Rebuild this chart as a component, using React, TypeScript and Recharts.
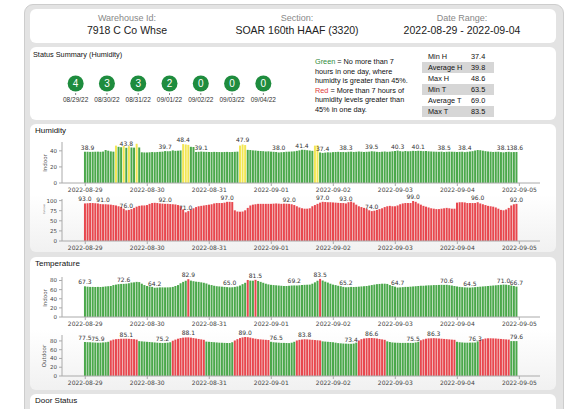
import { BarChart, Bar, XAxis, YAxis, Cell, LabelList, ScatterChart, Scatter } from 'recharts';

// hourly readings, 2022-08-29 00:00 .. 2022-09-04 23:00 (one row per day)
const indoorHumidity = [
  38.9, 38.9, 38.7, 38.8, 38.9, 39.0, 38.8, 39.1, 41.0, 40.2, 39.3, 39.0, 46.5, 45.0, 44.5, 46.0, 43.8, 45.8, 44.2, 44.0, 48.8, 44.2, 38.2, 38.0,
  38.0, 38.2, 38.5, 38.3, 38.6, 38.8, 39.0, 39.7, 39.5, 39.6, 40.6, 40.0, 40.2, 40.5, 48.4, 47.9, 47.4, 45.0, 44.8, 38.6, 38.8, 39.1, 38.8, 38.7,
  38.6, 38.5, 38.7, 38.6, 38.5, 38.4, 38.6, 38.7, 38.5, 38.6, 38.8, 39.0, 46.6, 47.9, 47.2, 41.2, 41.0, 40.6, 40.4, 40.0, 39.8, 39.6, 39.2, 39.4,
  39.0, 38.8, 38.6, 38.0, 38.3, 38.5, 38.8, 39.0, 39.2, 39.4, 40.0, 40.6, 41.4, 41.2, 40.8, 40.4, 40.0, 46.5, 47.0, 38.0, 37.4, 37.8, 38.2, 38.0,
  38.4, 38.6, 38.8, 38.5, 38.6, 38.3, 38.8, 39.0, 38.6, 38.8, 39.2, 38.9, 38.6, 38.8, 39.0, 39.5, 39.2, 38.8, 38.6, 38.9, 39.2, 38.8, 39.0, 39.4,
  39.8, 40.3, 39.6, 39.2, 39.8, 39.4, 39.6, 40.0, 39.8, 40.1, 39.9, 39.6, 39.8, 39.4, 39.2, 39.0, 38.9, 38.8, 39.0, 38.5, 38.8, 39.0, 38.9, 38.8,
  38.6, 38.8, 38.9, 38.4, 38.8, 39.2, 39.6, 40.4, 41.0, 40.8, 40.2, 39.6, 39.2, 38.9, 38.6, 38.8, 38.9, 38.4, 38.1, 38.6, 38.8, 38.4, 38.5, 38.6,
];
const outdoorHumidity = [
  93.0, 93.5, 94, 94, 93.5, 93, 91.5, 91.0, 91, 90.5, 90, 89, 88, 86, 84, 80, 76.0, 77, 79, 82, 85, 87, 88, 88,
  89, 92, 94, 94.5, 94, 93, 92.5, 92.0, 92, 91.5, 91, 90.5, 89, 86, 78, 71.0, 74, 78, 81, 84, 86, 87, 88, 89,
  90, 91, 93, 94, 94, 94, 95, 97.0, 97, 96.5, 76, 73, 72.5, 73, 76, 82, 88, 90, 91, 92, 92, 92, 92, 92,
  92, 92.5, 93, 92.5, 92, 92.5, 92, 92.0, 91, 89, 86, 83, 81, 80, 80, 81, 86, 89, 92, 95, 97.0, 96.5, 96, 96,
  95.5, 95, 94.5, 94, 94, 93.0, 96, 97.5, 95, 90, 86, 84, 82, 80, 76, 74.0, 75, 77, 79, 81, 84, 86, 87, 86,
  86, 88, 91, 93, 94, 94, 94, 99.0, 97, 93, 90, 87, 85, 83, 81, 80, 79, 79, 80, 81, 82, 81, 80, 80,
  95, 96, 96, 95.5, 94, 94, 94, 94, 96.0, 93, 91, 89, 87, 86, 85, 83, 80, 77, 76, 78, 82, 88, 91, 92.0,
];
const indoorTemp = [
  67.3, 66.5, 66, 66, 65.8, 66, 65.8, 66.2, 67, 67.5, 68, 70, 71, 72, 72.5, 72.6, 73, 74, 75.5, 76, 77, 76.5, 73, 70,
  68, 67, 66, 64.2, 64.5, 65, 65, 64.8, 65, 65.2, 66, 68, 70, 74, 77, 79.5, 82.9, 79.8, 78.5, 77.5, 77, 76, 75, 73.5,
  71, 70, 68.5, 67.5, 67, 66.5, 66, 65.5, 65.0, 65.2, 66, 67, 69, 72, 75, 81.2, 79.8, 79.6, 81.5, 79, 77, 75, 73, 71.5,
  70.5, 70, 69.5, 69, 68.5, 68, 68, 68.5, 69, 69.2, 69, 69.5, 70, 70.5, 70.8, 71, 73, 76, 79.5, 83.5, 80, 77.5, 75.5, 73,
  71, 70, 68.5, 67.5, 66, 65.2, 65.5, 66, 65.8, 66, 66.5, 67, 67.5, 68, 69, 70, 71, 72, 72.5, 73, 73, 72.5, 70, 68,
  66.5, 64.7, 65, 65.5, 66, 66, 66.5, 67, 67.5, 68, 68.5, 68.5, 69, 69.5, 69.5, 70, 70, 70.3, 70.5, 70.4, 70.6, 69.8, 69, 68,
  67, 66, 65.5, 65, 64.8, 64.5, 65, 65.5, 66, 66.5, 67, 67.5, 68, 68.5, 69, 69.5, 70, 70.5, 71.0, 70.8, 70, 69, 68, 66.7,
];
const outdoorTemp = [
  77.5, 77.2, 77, 76.5, 76.2, 75.9, 76, 76.5, 77, 78, 81, 83, 84, 84.5, 85, 85, 85.1, 84.8, 84.5, 84, 83, 79.5, 79, 78.5,
  78, 77.5, 77, 76.5, 76, 75.5, 75.2, 75.5, 76, 77, 80.5, 83, 85, 86.5, 87.5, 88, 88.1, 87.5, 86.5, 85.5, 84.5, 83.5, 82.5, 78.5,
  78, 77.5, 77, 76.5, 76, 75.8, 75.5, 75.3, 75.2, 77, 81, 84, 86.5, 88, 89.0, 88.5, 87.5, 86, 85, 84, 83.5, 83, 82.5, 82,
  78, 77, 76.5, 76, 75.5, 75.5, 75, 75, 76, 78, 81, 82.5, 83.5, 83.8, 83.5, 83, 82.5, 82, 81.5, 81, 79, 78.5, 78, 77.5,
  77, 76, 75, 74.5, 74, 73.8, 73.5, 73.4, 74, 76, 81, 84, 85.5, 86.2, 86.5, 86.6, 86.2, 85.5, 84.5, 83.5, 82.5, 79, 77.5, 76.5,
  76, 75.8, 75.5, 75.5, 75.5, 75.6, 75.5, 75.5, 76.5, 78, 81.5, 83.5, 85, 85.8, 86, 86.3, 86, 85.5, 85, 84.5, 84, 83.5, 83, 82.5,
  78, 77, 76.5, 76, 76, 76.2, 76.3, 76.3, 79, 82, 84, 85.5, 86, 86, 85.8, 85.5, 85, 84.5, 84, 83.5, 83, 79.6, 79.6, 79.6,
];

// hours whose value is printed above the bar
const indoorHumidityLabels = [1, 16, 31, 38, 45, 61, 75, 84, 92, 101, 111, 121, 129, 139, 147, 162, 167];
const outdoorHumidityLabels = [0, 7, 16, 31, 39, 55, 79, 92, 101, 111, 127, 152, 167];
const indoorTempLabels = [0, 15, 27, 40, 56, 66, 81, 91, 101, 121, 140, 149, 162, 167];
const outdoorTempLabels = [0, 5, 16, 30, 40, 62, 74, 85, 103, 111, 127, 135, 151, 167];

const dayTicks = ['2022-08-29', '2022-08-30', '2022-08-31', '2022-09-01', '2022-09-02', '2022-09-03', '2022-09-04', '2022-09-05'];
const tickHours = [0, 24, 48, 72, 96, 120, 144, 168];

const summaryDates = ['08/29/22', '08/30/22', '08/31/22', '09/01/22', '09/02/22', '09/03/22', '09/04/22'];
const summaryCounts = [4, 3, 3, 2, 0, 0, 0];

const statNames = ['Min H', 'Average H', 'Max H', 'Min T', 'Average T', 'Max T'];
const statValues = ['37.4', '39.8', '48.6', '63.5', '69.0', '83.5'];

const GREEN = '#4ba84b';
const RED = '#e8474e';
const YELLOW = '#f3e654';
const TXT = '#444';
const CHART_FONT = 'DejaVu Sans';

type HourlyProps = {
  values: number[];
  labels: number[];
  colorOf: (v: number) => string;
  yMax: number;
  yTicks: number[];
  plotTop: number;
  plotBottom: number;
};

function HourlyChart({ values, labels, colorOf, yMax, yTicks, plotTop, plotBottom }: HourlyProps) {
  const data = values.map((v, i) => ({ h: i, v, lab: labels.includes(i) ? v.toFixed(1) : null }));
  const mTop = 8;
  const height = mTop + (plotBottom - plotTop) + 14;
  return (
    <BarChart
      width={520}
      height={height}
      data={data}
      margin={{ top: mTop, right: 10, left: 0, bottom: 0 }}
      style={{ position: 'absolute', left: 30, top: plotTop - mTop }}
    >
      <XAxis
        type="number"
        dataKey="h"
        domain={[-9, 176]}
        ticks={tickHours}
        tickFormatter={(h: number) => dayTicks[Math.round(h / 24)]}
        height={14}
        tickSize={3}
        stroke="#aaa"
        tick={{ fontSize: 6, fill: TXT, fontFamily: CHART_FONT }}
        interval={0}
      />
      <YAxis
        domain={[0, yMax]}
        ticks={yTicks}
        width={32}
        tickSize={3}
        stroke="#aaa"
        tick={{ fontSize: 5.5, fill: TXT, fontFamily: CHART_FONT }}
        interval={0}
      />
      <Bar dataKey="v" barSize={2} isAnimationActive={false}>
        {data.map((d) => (
          <Cell key={d.h} fill={colorOf(d.v)} />
        ))}
        <LabelList
          dataKey="lab"
          content={(p: any) =>
            p.value == null ? null : (
              <text
                x={p.x + p.width / 2}
                y={p.y - 2}
                textAnchor="middle"
                fontSize={6}
                fill="#333"
                fontFamily={CHART_FONT}
              >
                {p.value}
              </text>
            )
          }
        />
      </Bar>
    </BarChart>
  );
}

function SideLabel({ text, x, y, size = 5.5 }: { text: string; x: number; y: number; size?: number }) {
  return (
    <div
      style={{
        position: 'absolute',
        left: x,
        top: y,
        transform: 'translate(-50%, -50%) rotate(-90deg)',
        fontSize: size,
        fontFamily: CHART_FONT,
        color: '#555',
        whiteSpace: 'nowrap',
      }}
    >
      {text}
    </div>
  );
}

const panel = (top: number, height: number, grad = false): any => ({
  position: 'absolute',
  left: 30,
  top,
  width: 526,
  height,
  borderRadius: 6,
  background: grad ? 'linear-gradient(#ffffff 55%, #f1f1f1)' : '#fff',
});

const title: any = {
  position: 'absolute',
  left: 5,
  top: 2,
  fontSize: 8,
  color: '#111',
  fontFamily: 'Liberation Sans',
};

function CircleShape(props: any) {
  const { cx, cy, payload } = props;
  return (
    <g>
      <circle cx={cx} cy={cy} r={8} fill="#1e8c3e" />
      <text x={cx} y={cy + 3.5} textAnchor="middle" fontSize={10} fill="#fff" fontFamily="Liberation Sans">
        {payload.count}
      </text>
    </g>
  );
}

export default function App() {
  const summary = summaryDates.map((d, i) => ({ date: d, count: summaryCounts[i], y: 1 }));
  const header = [
    { x: 127, k: 'Warehouse Id:', v: '7918 C Co Whse' },
    { x: 297, k: 'Section:', v: 'SOAR 160th HAAF (3320)' },
    { x: 462, k: 'Date Range:', v: '2022-08-29 - 2022-09-04' },
  ];
  return (
    <div
      style={{
        position: 'absolute',
        left: 0,
        top: 0,
        width: 569,
        height: 409,
        overflow: 'hidden',
        background: '#fff',
        fontFamily: 'Liberation Sans',
      }}
    >
      <div
        style={{
          position: 'absolute',
          left: 24,
          top: 4,
          width: 538,
          height: 430,
          background: '#e3e3e3',
          border: '1px solid #cdcdcd',
          borderRadius: 9,
        }}
      />
      <div style={panel(9, 34)}>
        {header.map((h) => (
          <div key={h.k}>
            <div
              style={{ position: 'absolute', left: h.x - 30, top: 4, transform: 'translateX(-50%)', fontSize: 9, color: '#888', whiteSpace: 'nowrap' }}
            >
              {h.k}
            </div>
            <div
              style={{ position: 'absolute', left: h.x - 30, top: 15, transform: 'translateX(-50%)', fontSize: 10.5, color: '#222', whiteSpace: 'nowrap' }}
            >
              {h.v}
            </div>
          </div>
        ))}
      </div>
      <div style={panel(47, 73)}>
        <div style={{ ...title, left: 3, top: 3, fontSize: 7.3 }}>Status Summary (Humidity)</div>
        <div style={{ position: 'absolute', left: 285, top: 10, fontSize: 7.3, lineHeight: '9.6px', color: '#111', whiteSpace: 'nowrap' }}>
          <span style={{ color: '#2e8b3e' }}>Green</span> = No more than 7<br />
          hours in one day, where<br />
          humidty is greater than 45%.<br />
          <span style={{ color: '#e03a3a' }}>Red</span> = More than 7 hours of<br />
          humidity levels greater than<br />
          45% in one day.
        </div>
        <div style={{ position: 'absolute', left: 392, top: 4, width: 72 }}>
          {statNames.map((n, i) => (
            <div
              key={n}
              style={{
                height: 11,
                lineHeight: '11px',
                fontSize: 7.3,
                color: '#111',
                background: i % 2 === 1 ? '#d6d6d6' : 'transparent',
                display: 'flex',
              }}
            >
              <span style={{ width: 43, paddingLeft: 6 }}>{n}</span>
              <span>{statValues[i]}</span>
            </div>
          ))}
        </div>
      </div>
      <ScatterChart
        width={219}
        height={32}
        data={summary}
        margin={{ top: 0, right: 0, left: 0, bottom: 0 }}
        style={{ position: 'absolute', left: 60, top: 74 }}
      >
        <XAxis
          dataKey="date"
          type="category"
          allowDuplicatedCategory={false}
          axisLine={false}
          tickSize={2}
          stroke="#888"
          height={13}
          interval={0}
          tick={{ fontSize: 6.5, fill: '#333', fontFamily: 'Liberation Sans' }}
        />
        <YAxis dataKey="y" domain={[0, 2]} hide />
        <Scatter data={summary} dataKey="y" shape={<CircleShape />} isAnimationActive={false} />
      </ScatterChart>

      <div style={panel(124, 128, true)}>
        <div style={title}>Humidity</div>
      </div>
      <HourlyChart
        values={indoorHumidity}
        labels={indoorHumidityLabels}
        colorOf={(v) => (v > 45 ? YELLOW : GREEN)}
        yMax={51}
        yTicks={[0, 20, 40]}
        plotTop={142}
        plotBottom={183}
      />
      <SideLabel text="Indoor" x={45} y={163} />
      <HourlyChart
        values={outdoorHumidity}
        labels={outdoorHumidityLabels}
        colorOf={() => RED}
        yMax={104}
        yTicks={[0, 25, 50, 75, 100]}
        plotTop={199}
        plotBottom={241}
      />
      <SideLabel text="Outdoor" x={44} y={209} size={2.5} />

      <div style={panel(257, 133, true)}>
        <div style={title}>Temperature</div>
      </div>
      <HourlyChart
        values={indoorTemp}
        labels={indoorTempLabels}
        colorOf={(v) => (v > 80 ? RED : GREEN)}
        yMax={87.7}
        yTicks={[0, 20, 40, 60, 80]}
        plotTop={277}
        plotBottom={317}
      />
      <SideLabel text="Indoor" x={45} y={298} />
      <HourlyChart
        values={outdoorTemp}
        labels={outdoorTempLabels}
        colorOf={(v) => (v > 80 ? RED : GREEN)}
        yMax={93.5}
        yTicks={[0, 20, 40, 60, 80]}
        plotTop={335}
        plotBottom={376}
      />
      <SideLabel text="Outdoor" x={44} y={356} />

      <div style={panel(394, 40)}>
        <div style={title}>Door Status</div>
      </div>
    </div>
  );
}
